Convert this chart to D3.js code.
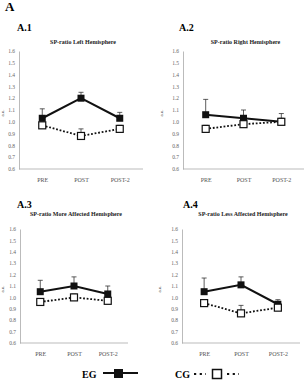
<!DOCTYPE html>
<html>
<head>
<meta charset="utf-8">
<script src="https://cdn.jsdelivr.net/npm/d3@7"></script>
<style>
  html, body { margin: 0; padding: 0; background: #fff; }
  svg { display: block; font-family: "Liberation Serif", "DejaVu Serif", serif; }
</style>
</head>
<body>
<div id="chart"></div>
<script>
// Data
const categories = ["PRE", "POST", "POST-2"];
const yTicks = [0.6, 0.7, 0.8, 0.9, 1.0, 1.1, 1.2, 1.3, 1.4, 1.5, 1.6];
const panelLabels = ["A.1", "A.2", "A.3", "A.4"];
const panelTitles = [
    "SP-ratio Left Hemisphere",
    "SP-ratio Right Hemisphere",
    "SP-ratio More Affected Hemisphere",
    "SP-ratio Less Affected Hemisphere"
];
const egMeans = [[1.03, 1.20, 1.03], [1.06, 1.03, 1.00], [1.05, 1.10, 1.03], [1.05, 1.11, 0.94]];
const egErrors = [[0.08, 0.05, 0.05], [0.13, 0.07, 0.07], [0.10, 0.08, 0.07], [0.12, 0.07, 0.04]];
const cgMeans = [[0.97, 0.88, 0.94], [0.94, 0.98, 1.00], [0.96, 1.00, 0.97], [0.95, 0.86, 0.91]];
const cgErrors = [[0.03, 0.06, 0.03], [0.03, 0.03, 0.03], [0.03, 0.03, 0.03], [0.03, 0.07, 0.03]];

// Layout of the four panels (pixels)
const layout = [
    { x0: 19, x1: 143, yTop: 51, yBot: 169, lx: 17, ly: 31, ty: 44, ux: 4 },
    { x0: 183, x1: 304, yTop: 51, yBot: 169, lx: 179, ly: 31, ty: 44, ux: 163 },
    { x0: 20, x1: 128, yTop: 229, yBot: 343, lx: 17, ly: 208, ty: 216, ux: 4 },
    { x0: 182, x1: 300, yTop: 229, yBot: 343, lx: 183, ly: 208, ty: 216, ux: 161 }
];

const W = 304, H = 388;
const svg = d3.select("#chart").append("svg")
    .attr("width", W)
    .attr("height", H);

svg.append("text")
    .attr("x", 5).attr("y", 11)
    .attr("font-size", 13).attr("font-weight", "bold")
    .text("A");

const sq = 7;

layout.forEach((p, i) => {
    const g = svg.append("g");

    const x = d3.scalePoint()
        .domain(categories)
        .range([p.x0, p.x1])
        .padding(0.6);

    const y = d3.scaleLinear()
        .domain([0.6, 1.6])
        .range([p.yBot, p.yTop]);

    // panel label and title
    g.append("text")
        .attr("x", p.lx).attr("y", p.ly)
        .attr("font-size", 10).attr("font-weight", "bold")
        .text(panelLabels[i]);

    g.append("text")
        .attr("x", (p.x0 + p.x1) / 2 + 2).attr("y", p.ty)
        .attr("text-anchor", "middle")
        .attr("font-size", 6).attr("font-weight", "bold")
        .attr("fill", "#222")
        .text(panelTitles[i]);

    // y axis
    const yAxis = g.append("g")
        .attr("transform", `translate(${p.x0},0)`)
        .call(d3.axisLeft(y).tickValues(yTicks).tickSize(0).tickPadding(4)
            .tickFormat(d3.format(".1f")));
    yAxis.select(".domain").attr("stroke", "#aaa").attr("stroke-width", 0.8);
    yAxis.selectAll("text")
        .attr("font-family", "Liberation Serif, serif")
        .attr("font-size", 5.5)
        .attr("fill", "#666");

    // x axis
    const xAxis = g.append("g")
        .attr("transform", `translate(0,${p.yBot})`)
        .call(d3.axisBottom(x).tickSize(0).tickPadding(9));
    xAxis.select(".domain").attr("stroke", "#aaa").attr("stroke-width", 0.8)
        .attr("d", `M${p.x0},0H${p.x1}`);
    xAxis.selectAll("text")
        .attr("font-family", "Liberation Serif, serif")
        .attr("font-size", 6)
        .attr("fill", "#555");

    // y label
    g.append("text")
        .attr("transform", `translate(${p.ux},${(p.yTop + p.yBot) / 2 + 3}) rotate(-90)`)
        .attr("text-anchor", "middle")
        .attr("font-size", 5)
        .attr("fill", "#333")
        .text("a.u.");

    const eg = categories.map((c, j) => ({ c, v: egMeans[i][j], e: egErrors[i][j] }));
    const cg = categories.map((c, j) => ({ c, v: cgMeans[i][j], e: cgErrors[i][j] }));

    const line = d3.line().x(d => x(d.c)).y(d => y(d.v));

    // error bars (upper only)
    [eg, cg].forEach(s => {
        const eb = g.append("g").attr("stroke", "#333").attr("stroke-width", 0.8);
        eb.selectAll("line.v").data(s).join("line")
            .attr("x1", d => x(d.c)).attr("x2", d => x(d.c))
            .attr("y1", d => y(d.v)).attr("y2", d => y(d.v + d.e));
        eb.selectAll("line.h").data(s).join("line")
            .attr("x1", d => x(d.c) - 2.5).attr("x2", d => x(d.c) + 2.5)
            .attr("y1", d => y(d.v + d.e)).attr("y2", d => y(d.v + d.e));
    });

    g.append("path").datum(cg)
        .attr("d", line)
        .attr("fill", "none")
        .attr("stroke", "#111")
        .attr("stroke-width", 1.8)
        .attr("stroke-dasharray", "1.8,1.8");

    g.append("path").datum(eg)
        .attr("d", line)
        .attr("fill", "none")
        .attr("stroke", "#111")
        .attr("stroke-width", 2);

    g.selectAll("rect.eg").data(eg).join("rect")
        .attr("x", d => x(d.c) - sq / 2).attr("y", d => y(d.v) - sq / 2)
        .attr("width", sq).attr("height", sq)
        .attr("fill", "#111");

    g.selectAll("rect.cg").data(cg).join("rect")
        .attr("x", d => x(d.c) - sq / 2).attr("y", d => y(d.v) - sq / 2)
        .attr("width", sq).attr("height", sq)
        .attr("fill", "#fff")
        .attr("stroke", "#111")
        .attr("stroke-width", 1.2);
});

// legend
const leg = svg.append("g");
leg.append("text")
    .attr("x", 82).attr("y", 378)
    .attr("font-size", 10).attr("font-weight", "bold")
    .text("EG");
leg.append("line")
    .attr("x1", 103).attr("x2", 138).attr("y1", 373).attr("y2", 373)
    .attr("stroke", "#111").attr("stroke-width", 2.2);
leg.append("rect")
    .attr("x", 114).attr("y", 369).attr("width", 9).attr("height", 9)
    .attr("fill", "#111");

leg.append("text")
    .attr("x", 175).attr("y", 378)
    .attr("font-size", 10).attr("font-weight", "bold")
    .text("CG");
[[194, 206], [227, 239]].forEach(([a, b]) => {
    leg.append("line")
        .attr("x1", a).attr("x2", b).attr("y1", 374).attr("y2", 374)
        .attr("stroke", "#111").attr("stroke-width", 2.2)
        .attr("stroke-dasharray", "2.2,3.5");
});
leg.append("rect")
    .attr("x", 212.5).attr("y", 369.5).attr("width", 9).attr("height", 9)
    .attr("fill", "#fff").attr("stroke", "#111").attr("stroke-width", 1.5);
</script>
</body>
</html>
